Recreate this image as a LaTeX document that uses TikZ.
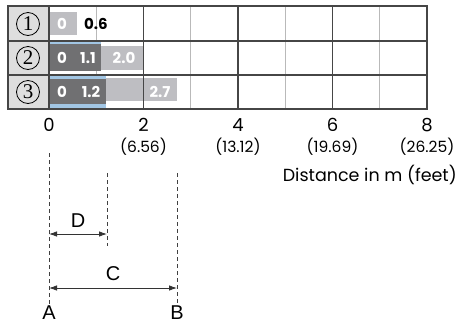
\documentclass[tikz,border=0pt]{standalone}
\usepackage{fontspec}
\setmainfont{Poppins}
\newfontfamily\numfont{Liberation Serif}
\newfontfamily\arialfont{Liberation Sans}
\usetikzlibrary{arrows.meta,positioning}
\definecolor{darkbar}{RGB}{112,112,114}
\definecolor{lightbar}{RGB}{190,190,194}
\definecolor{bluebar}{RGB}{162,198,228}
\definecolor{cellgray}{RGB}{222,222,222}
\definecolor{gridlight}{RGB}{185,185,185}
\definecolor{griddark}{RGB}{70,70,70}

\begin{document}
\begin{tikzpicture}
[x=1pt,y=-1pt,
 v/.style={inner sep=0pt,text=white,font=\bfseries\fontsize{15}{15}\selectfont},
 rownum/.style={circle,draw,line width=0.8pt,inner sep=0pt,minimum size=23pt,font=\numfont\fontsize{21}{21}\selectfont},
 mlabel/.style={inner sep=0pt,font=\fontsize{18}{18}\selectfont},
 ftlabel/.style={inner sep=0pt,font=\fontsize{15.5}{15.5}\selectfont},
 letter/.style={inner sep=0pt,font=\arialfont\fontsize{20}{20}\selectfont},
 dim/.style={dashed,dash pattern=on 4pt off 3pt,black!75,line width=0.8pt},
 measure/.style={{Latex[length=8pt,width=5.5pt]}-{Latex[length=8pt,width=5.5pt]},black!80,line width=0.8pt}]
\useasboundingbox (0,0) rectangle (457,325);
% table
\fill[cellgray] (8,6) rectangle (49,109);
\foreach \i in {1,3,5,7}
  \draw[gridlight,line width=1pt] (49+47.25*\i,6) -- (49+47.25*\i,109);
\fill[lightbar] (49,12) rectangle (77,35);
\fill[lightbar] (101,46) rectangle (144,70);
\fill[darkbar] (49,44) rectangle (101,71);
\fill[bluebar] (49,41) rectangle (101,44);
\fill[lightbar] (106,78) rectangle (177,101);
\fill[darkbar] (49,79) rectangle (106,104);
\fill[bluebar] (49,76) rectangle (106,79);
\fill[bluebar] (49,104) rectangle (106,109);
\foreach \i in {2,4,6}
  \draw[griddark,line width=1.1pt] (49+47.25*\i,6) -- (49+47.25*\i,109);
\draw[griddark,line width=1.1pt] (8,41) -- (427,41) (8,75) -- (427,75) (49,6) -- (49,109);
\draw[griddark,line width=1.3pt] (8,6) rectangle (427,109);
% rows
\node[rownum] (r1) at (28,24) {1};
\node[rownum] (r2) at (28,58) {2};
\node[rownum] (r3) at (28,92) {3};
\node[v] (v10) at (62,24) {0};
\node[v,text=black] (v11) at (96,24) {0.6};
\node[v] (v20) at (62,58) {0};
\node[v] (v21) at (88,58) {1.1};
\node[v] (v22) at (124,58) {2.0};
\node[v] (v30) at (62,92) {0};
\node[v] (v31) at (91,92) {1.2};
\node[v] (v32) at (160,92) {2.7};
% axis
\foreach \m/\ft in {0/,2/(6.56),4/(13.12),6/(19.69),8/(26.25)} {
  \node[mlabel] (m\m) at (49+47.25*\m,125) {\m};
  \node[ftlabel] (f\m) at (49+47.25*\m,147) {\ft};
}
\node[ftlabel,font=\fontsize{17.5}{17.5}\selectfont,anchor=east] (dist) at (457,175) {Distance in m (feet)};
% dimensions
\node[letter] (A) at (49,313) {A};
\node[letter] (B) at (177,313) {B};
\coordinate (a0) at (49,153);
\coordinate (b0) at (177,173);
\coordinate (d0) at (107,173);
\coordinate (d1) at (107,246);
\draw[dim] (a0) -- (A.north);
\draw[dim] (b0) -- (B.north);
\draw[dim] (d0) -- (d1);
\coordinate (dl) at (49,234);
\coordinate (dr) at (107,234);
\coordinate (cl) at (49,288);
\coordinate (cr) at (177,288);
\draw[measure] (dl) -- (dr);
\draw[measure] (cl) -- (cr);
\node[letter] (D) at (78,221) {D};
\node[letter] (C) at (113,274) {C};
\end{tikzpicture}
\end{document}
